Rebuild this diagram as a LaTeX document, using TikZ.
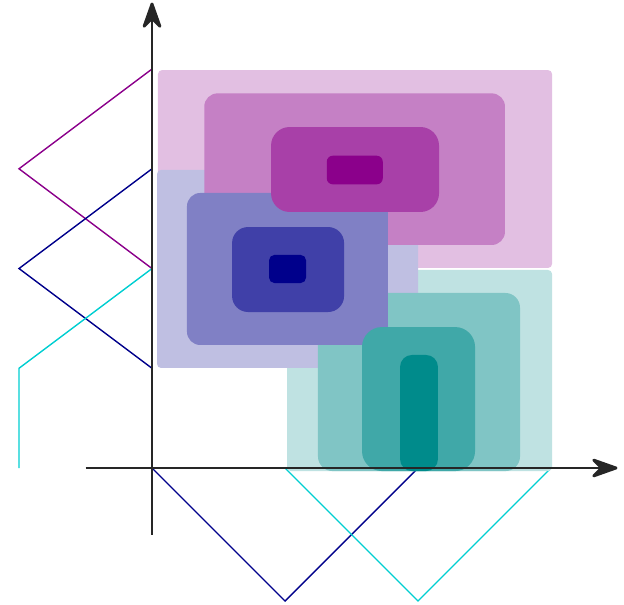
\documentclass[tikz,border=0pt]{standalone}
\usepackage{xcolor}
\usetikzlibrary{arrows.meta}
\definecolor{plumink}{HTML}{8B008B}
\definecolor{navyink}{HTML}{00008B}
\definecolor{tealink}{HTML}{008B8B}
\definecolor{turqink}{HTML}{00CED1}

\begin{document}
\begin{tikzpicture}[
  x=1cm,
  y=1cm,
  spread/.style={line width=0.3pt},
  slab/.style={fill=#1, draw=none},
  axisline/.style={
    black!85,
    line width=0.35pt,
    -{Stealth[length=6.8pt, width=4.8pt, inset=2.4pt, line width=0.6pt, round]}
  }
]
  \useasboundingbox (-1.143,-1.023) rectangle (3.549,3.519);

  \draw[spread, plumink] (0,3) -- (-1,2.25) -- (0,1.5);
  \draw[spread, navyink] (0,2.25) -- (-1,1.5) -- (0,0.75);
  \draw[spread, turqink] (0,1.5) -- (-1,0.75) -- (-1,0);
  \draw[spread, navyink] (0,0) -- (1,-1) -- (2,0);
  \draw[spread, turqink] (1,0) -- (2,-1) -- (3,0);

  \path[slab=plumink!25, rounded corners=0.03cm]
    (0.045,1.504) rectangle (3.008,2.992);
  \path[slab=tealink!25, rounded corners=0.03cm]
    (1.015,-0.023) rectangle (3.008,1.489);
  \path[slab=navyink!25, rounded corners=0.03cm]
    (0.038,0.752) rectangle (2.0,2.241);

  \path[slab=plumink!50, rounded corners=0.1cm]
    (0.393,1.677) rectangle (2.654,2.817);
  \path[slab=tealink!50, rounded corners=0.11cm]
    (1.248,-0.023) rectangle (2.767,1.316);
  \path[slab=navyink!50, rounded corners=0.1cm]
    (0.263,0.925) rectangle (1.774,2.068);

  \path[slab=plumink!75, rounded corners=0.14cm]
    (0.895,1.925) rectangle (2.158,2.564);
  \path[slab=tealink!75, rounded corners=0.15cm]
    (1.579,-0.023) rectangle (2.429,1.060);
  \path[slab=navyink!75, rounded corners=0.12cm]
    (0.602,1.173) rectangle (1.444,1.812);

  \path[slab=plumink, rounded corners=0.045cm]
    (1.314,2.133) rectangle (1.735,2.348);
  \path[slab=tealink, rounded corners=0.09cm]
    (1.865,-0.023) rectangle (2.150,0.850);
  \path[slab=navyink, rounded corners=0.04cm]
    (0.880,1.391) rectangle (1.158,1.602);

  \draw[axisline] (-0.5,0) -- (3.5,0);
  \draw[axisline] (0,-0.5) -- (0,3.5);
\end{tikzpicture}
\end{document}
